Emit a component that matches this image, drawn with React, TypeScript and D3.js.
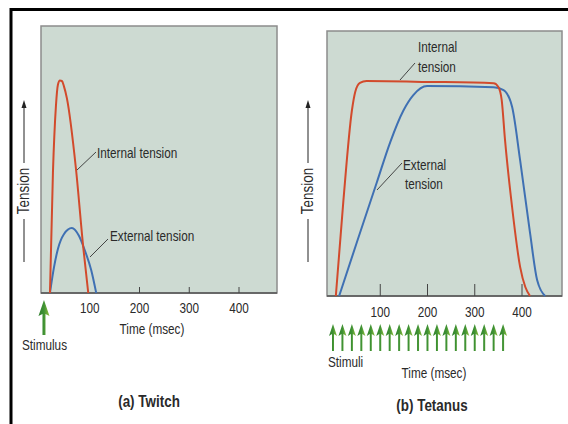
import React from "react";
import * as d3 from "d3";

// ---------- data (time in msec, tension in arbitrary % units) ----------
const twitchInternal: [number, number][] = [
  [20, 0], [26, 45], [32, 70], [36, 78], [40, 79.6], [44, 79.4], [48, 77.5],
  [54, 73], [72, 47], [87, 17], [97, 0],
];
const twitchExternal: [number, number][] = [
  [20, 0], [28, 9.5], [36, 16.5], [48, 22], [64, 24.3], [78, 21.5], [90, 16],
  [103, 8.5], [113, 0],
];
const tetanusInternal: [number, number][] = [
  [6, 0], [22, 36], [40, 70], [47, 77], [57, 80.4], [71, 81.1], [200, 80.8],
  [340, 80.3], [350, 78.9], [357, 74], [364, 59], [379, 33.6], [396, 11],
  [407, 3.4], [417, 0],
];
const tetanusExternal: [number, number][] = [
  [13, 0], [50, 20], [93, 43], [121, 58], [149, 70], [170, 75.8],
  [199, 79.2], [340, 78.8], [361, 77.7], [379, 71.4], [396, 51.3],
  [417, 23.8], [432, 6], [449, 0],
];
const twitchTicks = [200, 300, 400];
const twitchTickLabels = [100, 200, 300, 400];
const tetanusTicks = [100, 200, 300, 400];
const twitchStimulus = [10];
const tetanusStimuli = d3.range(0, 361, 20);

const RED = "#d24a2c";
const BLUE = "#3f70b3";
const FILL = "#cddad2";
const FONT = "'Liberation Sans', Arial, sans-serif";

// ---------- scales ----------
const xA = d3.scaleLinear().domain([0, 400]).range([40, 239]);
const yA = d3.scaleLinear().domain([0, 100]).range([293, 26]);
const xB = d3.scaleLinear().domain([0, 400]).range([333, 522]);
const yB = d3.scaleLinear().domain([0, 100]).range([296, 31]);

const lineA = d3.line<[number, number]>().x(d => xA(d[0])).y(d => yA(d[1])).curve(d3.curveMonotoneX);
const lineB = d3.line<[number, number]>().x(d => xB(d[0])).y(d => yB(d[1])).curve(d3.curveMonotoneX);

function T({ x, y, children, anchor = "start", size = 14, bold = false, rot = 0 }: any) {
  return (
    <text
      transform={`translate(${x},${y}) rotate(${rot}) scale(0.84,1)`}
      textAnchor={anchor}
      fontFamily={FONT}
      fontSize={size}
      fontWeight={bold ? "bold" : "normal"}
      fill="#2a2a2a"
      dominantBaseline={rot ? "central" : undefined}
    >
      {children}
    </text>
  );
}

function Arrow({ x, top, headH, headW, bottom, shaft }: { x: number; top: number; headH: number; headW: number; bottom: number; shaft: number }) {
  const d = `M${x},${top} L${x + headW / 2},${top + headH} L${x + shaft / 2},${top + headH - 2} L${x + shaft / 2},${bottom} L${x - shaft / 2},${bottom} L${x - shaft / 2},${top + headH - 2} L${x - headW / 2},${top + headH} Z`;
  return <path d={d} fill="url(#g)" />;
}

function TensionLabel({ x }: { x: number }) {
  return (
    <g>
      <line x1={x} x2={x} y1={163} y2={106} stroke="#222" strokeWidth={1} />
      <path d={`M${x},${100} L${x + 2.5},${108} L${x - 2.5},${108} Z`} fill="#222" />
      <T x={x} y={191} anchor="middle" size={16} rot={-90}>Tension</T>
      <line x1={x} x2={x} y1={219} y2={262} stroke="#222" strokeWidth={1} />
    </g>
  );
}

export default function App() {
  return (
    <svg width={568} height={424} style={{ position: "absolute", left: 0, top: 0, background: "#fff" }}>
      <defs>
        <linearGradient id="g" x1="0" x2="1" y1="0" y2="0">
          <stop offset="0" stopColor="#2f7f2c" />
          <stop offset="0.5" stopColor="#3f9234" />
          <stop offset="1" stopColor="#8fbf3c" />
        </linearGradient>
      </defs>
      {/* frame */}
      <line x1={11} x2={568} y1={9.5} y2={9.5} stroke="#000" strokeWidth={3} />
      <line x1={11} x2={11} y1={8} y2={424} stroke="#000" strokeWidth={3} />

      {/* ---------- panel (a) ---------- */}
      <rect x={41} y={26} width={236} height={267} fill={FILL} stroke="#8c8c8c" strokeWidth={1.5} />
      <line x1={41} x2={277} y1={293} y2={293} stroke="#555" strokeWidth={1.5} />
      {twitchTicks.map(t => (
        <line key={t} x1={xA(t)} x2={xA(t)} y1={287} y2={293} stroke="#444" strokeWidth={1} />
      ))}
      <path d={lineA(twitchExternal) || ""} fill="none" stroke={BLUE} strokeWidth={2} />
      <path d={lineA(twitchInternal) || ""} fill="none" stroke={RED} strokeWidth={2} />
      {twitchTickLabels.map(t => (
        <T key={t} x={xA(t)} y={313} anchor="middle">{t}</T>
      ))}
      <line x1={96} y1={152} x2={77} y2={170} stroke="#333" strokeWidth={0.9} />
      <T x={97} y={158}>Internal tension</T>
      <line x1={108} y1={239} x2={90} y2={257} stroke="#333" strokeWidth={0.9} />
      <T x={110} y={241}>External tension</T>
      <TensionLabel x={24} />
      {twitchStimulus.map(t => (
        <Arrow key={t} x={xA(t) - 1} top={300} headH={16} headW={11} bottom={335} shaft={3} />
      ))}
      <T x={22} y={350}>Stimulus</T>
      <T x={152} y={334} anchor="middle">Time (msec)</T>
      <T x={149} y={407} anchor="middle" size={16} bold>(a) Twitch</T>

      {/* ---------- panel (b) ---------- */}
      <rect x={327} y={31} width={235} height={265} fill={FILL} stroke="#8c8c8c" strokeWidth={1.5} />
      <line x1={327} x2={562} y1={296} y2={296} stroke="#555" strokeWidth={1.5} />
      {tetanusTicks.map(t => (
        <line key={t} x1={xB(t)} x2={xB(t)} y1={284} y2={296} stroke="#444" strokeWidth={1} />
      ))}
      <path d={lineB(tetanusExternal) || ""} fill="none" stroke={BLUE} strokeWidth={2} />
      <path d={lineB(tetanusInternal) || ""} fill="none" stroke={RED} strokeWidth={2} />
      {tetanusTicks.map(t => (
        <T key={t} x={xB(t)} y={317} anchor="middle">{t}</T>
      ))}
      <T x={418} y={52}>Internal</T>
      <T x={418} y={72}>tension</T>
      <line x1={415} y1={63} x2={400} y2={80} stroke="#333" strokeWidth={0.9} />
      <T x={403} y={170}>External</T>
      <T x={405} y={189}>tension</T>
      <line x1={402} y1={163} x2={377} y2={190} stroke="#333" strokeWidth={0.9} />
      <TensionLabel x={308} />
      {tetanusStimuli.map(t => (
        <Arrow key={t} x={xB(t)} top={324} headH={12} headW={8} bottom={351} shaft={2} />
      ))}
      <T x={328} y={367}>Stimuli</T>
      <T x={434} y={378} anchor="middle">Time (msec)</T>
      <T x={432} y={411} anchor="middle" size={16} bold>(b) Tetanus</T>
    </svg>
  );
}
